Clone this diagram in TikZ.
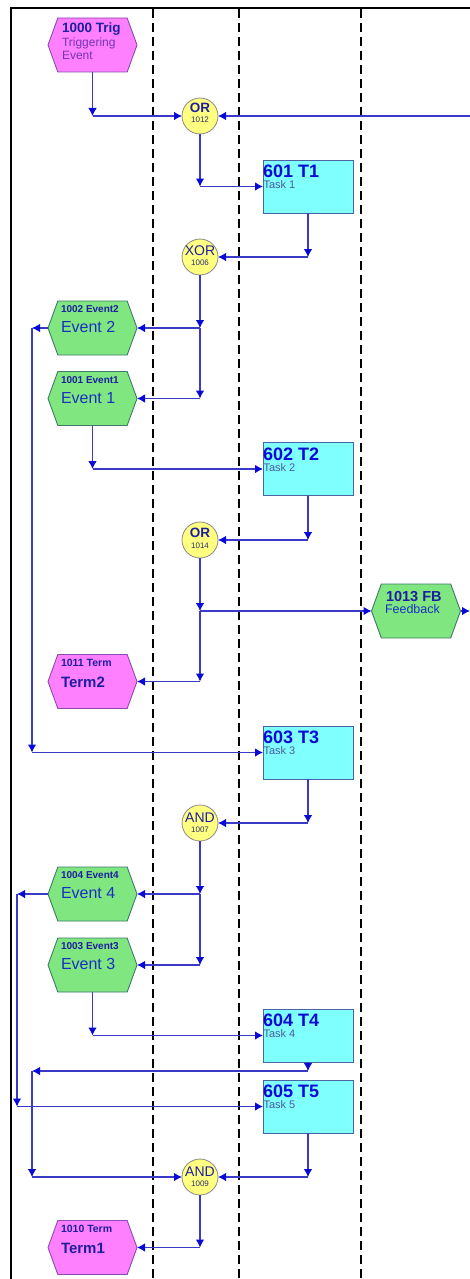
\documentclass[tikz,border=0pt]{standalone}
\usepackage{fontspec}
\setmainfont{Liberation Sans}
\usetikzlibrary{arrows.meta,shapes.symbols}
\definecolor{lc}{HTML}{3A3AC8}
\definecolor{ac}{HTML}{0A0AD8}
\definecolor{magf}{HTML}{FF80FF}
\definecolor{magd}{HTML}{8A4AB0}
\definecolor{grnf}{HTML}{80E680}
\definecolor{grnd}{HTML}{3E7A6A}
\definecolor{cynf}{HTML}{80FFFF}
\definecolor{cynd}{HTML}{4A64A8}
\definecolor{yelf}{HTML}{FFFF80}
\definecolor{yeld}{HTML}{8A8A8A}
\definecolor{tdark}{HTML}{1E1EA0}
\definecolor{tblue}{HTML}{1A30C0}
\definecolor{tpurp}{HTML}{7434B4}
\definecolor{tgray}{HTML}{4A5AA0}
\definecolor{tnum}{HTML}{2E2E6E}
\newcommand\fsz[1]{\fontsize{#1}{#1}\selectfont}
\begin{document}
\begin{tikzpicture}[x=1pt,y=-1pt,
 hexa/.style={shape=signal, signal to=west and east, signal pointer angle=140, minimum width=89pt, minimum height=54pt, inner sep=0pt, outer sep=0pt, line width=0.9pt},
 evm/.style={hexa, fill=magf, draw=magd},
 evg/.style={hexa, fill=grnf, draw=grnd},
 task/.style={rectangle, fill=cynf, draw=cynd, line width=0.9pt, minimum width=90pt, minimum height=53pt, inner sep=0pt, outer sep=0pt},
 conn/.style={circle, fill=yelf, draw=yeld, line width=0.8pt, minimum size=36pt, inner sep=0pt, outer sep=0pt},
 arr/.style={draw=lc, line width=1.1pt, -{Latex[length=8pt,width=8.5pt,color=ac]}},
 lane/.style={line width=2.7pt, dash pattern=on 9pt off 5pt},
 tx/.style={anchor=base west, inner sep=0pt, outer sep=0pt},
 tc/.style={anchor=base, inner sep=0pt, outer sep=0pt},
 evsmall/.style={tx, text=tdark, font=\bfseries\fsz{10}},
 evbig/.style={tx, text=tblue, font=\fsz{16}},
 tmsmall/.style={tx, text=tdark, font=\bfseries\fsz{10.5}},
 tmbig/.style={tx, text=tdark, font=\bfseries\fsz{15}},
 tkbig/.style={tx, text=ac, font=\bfseries\fsz{18}},
 tksmall/.style={tx, text=tgray, font=\fsz{11}},
 cbig/.style={tc, text=tdark, font=\bfseries\fsz{13.5}},
 cbigr/.style={tc, text=tdark, font=\fsz{14}},
 cnum/.style={tc, text=tnum, font=\fsz{8}},
]
\useasboundingbox (0,0) rectangle (470,1279);
\fill[white] (0,0) rectangle (470,1279);
% lanes and frame
\foreach \lx in {153,239,361} \draw[lane] (\lx,9) -- (\lx,1279);
\draw[line width=2pt] (11,1279) -- (11,8) -- (470,8);
\coordinate (lx1) at (32,0);
\coordinate (lx2) at (17,0);
\coordinate (fbin) at (470,116);
\coordinate (fbout) at (470,611);
\coordinate (t4o) at (308,1071);
% events
\node[evm] (trig) at (92.5,45) {};
\node[evg] (ev2) at (92.5,328) {};
\node[evg] (ev1) at (92.5,398.5) {};
\node[evm] (term2) at (92.5,681.5) {};
\node[evg] (ev4) at (92.5,894) {};
\node[evg] (ev3) at (92.5,965) {};
\node[evm] (term1) at (92.5,1247.5) {};
\node[evg] (fb) at (416,611) {};
% tasks
\node[task] (t1) at (308,186.5) {};
\node[task] (t2) at (308,469) {};
\node[task] (t3) at (308,752.5) {};
\node[task] (t4) at (308,1035.5) {};
\node[task] (t5) at (308,1106.5) {};
% connectors (gates)
\node[conn] (or1012) at (200,116) {};
\node[conn] (xor) at (200,257) {};
\node[conn] (or1014) at (200,540) {};
\node[conn] (and1007) at (200,823) {};
\node[conn] (and1009) at (200,1177) {};
% texts
\node[tx, text=tdark, font=\bfseries\fsz{13.5}] (trig-a) at (62,33) {1000 Trig};
\node[tx, text=tpurp, font=\fsz{12}] (trig-b) at (62,47) {Triggering};
\node[tx, text=tpurp, font=\fsz{12}] (trig-c) at (62,60) {Event};
\node[evsmall] (ev2-a) at (61,312) {1002 Event2};
\node[evbig] (ev2-b) at (61,332) {Event 2};
\node[evsmall] (ev1-a) at (61,383) {1001 Event1};
\node[evbig] (ev1-b) at (61,403) {Event 1};
\node[tmsmall] (term2-a) at (61,666) {1011 Term};
\node[tmbig] (term2-b) at (61,687) {Term2};
\node[evsmall] (ev4-a) at (61,878) {1004 Event4};
\node[evbig] (ev4-b) at (61,898) {Event 4};
\node[evsmall] (ev3-a) at (61,949) {1003 Event3};
\node[evbig] (ev3-b) at (61,969) {Event 3};
\node[tmsmall] (term1-a) at (61,1232) {1010 Term};
\node[tmbig] (term1-b) at (61,1253) {Term1};
\node[tx, text=tdark, font=\bfseries\fsz{14.5}] (fb-a) at (386,601) {1013 FB};
\node[tx, text=tblue, font=\fsz{12.5}] (fb-b) at (385,613) {Feedback};
\node[tkbig] (t1-a) at (263,177) {601 T1};
\node[tksmall] (t1-b) at (263.5,188) {Task 1};
\node[tkbig] (t2-a) at (263,460) {602 T2};
\node[tksmall] (t2-b) at (263.5,471) {Task 2};
\node[tkbig] (t3-a) at (263,743) {603 T3};
\node[tksmall] (t3-b) at (263.5,754) {Task 3};
\node[tkbig] (t4-a) at (263,1026) {604 T4};
\node[tksmall] (t4-b) at (263.5,1037) {Task 4};
\node[tkbig] (t5-a) at (263,1097) {605 T5};
\node[tksmall] (t5-b) at (263.5,1108) {Task 5};
\node[cbig] (or1012-a) at (200,112.5) {OR};
\node[cnum] (or1012-b) at (200,122.5) {1012};
\node[cbigr] (xor-a) at (200,255) {XOR};
\node[cnum] (xor-b) at (200,265) {1006};
\node[cbig] (or1014-a) at (200,537) {OR};
\node[cnum] (or1014-b) at (200,548) {1014};
\node[cbigr] (and1007-a) at (200,822) {AND};
\node[cnum] (and1007-b) at (200,832) {1007};
\node[cbigr] (and1009-a) at (200,1176) {AND};
\node[cnum] (and1009-b) at (200,1186) {1009};
% arrows
\draw[arr] (trig.south) -- (trig.south |- or1012.west);
\draw[arr] (trig.south |- or1012.west) -- (or1012.west);
\draw[arr] (fbin) -- (or1012.east);
\draw[arr] (or1012.south) -- (or1012.south |- t1.west);
\draw[arr] (or1012.south |- t1.west) -- (t1.west);
\draw[arr] (t1.south) -- (t1.south |- xor.east);
\draw[arr] (t1.south |- xor.east) -- (xor.east);
\draw[arr] (xor.south) -- (xor.south |- ev2.east);
\draw[arr] (xor.south |- ev2.east) -- (ev2.east);
\draw[arr] (xor.south |- ev2.east) -- (xor.south |- ev1.east);
\draw[arr] (xor.south |- ev1.east) -- (ev1.east);
\draw[arr] (ev2.west) -- (lx1 |- ev2.west);
\draw[arr] (lx1 |- ev2.west) -- (lx1 |- t3.west);
\draw[arr] (lx1 |- t3.west) -- (t3.west);
\draw[arr] (ev1.south) -- (ev1.south |- t2.west);
\draw[arr] (ev1.south |- t2.west) -- (t2.west);
\draw[arr] (t2.south) -- (t2.south |- or1014.east);
\draw[arr] (t2.south |- or1014.east) -- (or1014.east);
\draw[arr] (or1014.south) -- (or1014.south |- fb.west);
\draw[arr] (or1014.south |- fb.west) -- (fb.west);
\draw[arr] (or1014.south |- fb.west) -- (or1014.south |- term2.east);
\draw[arr] (or1014.south |- term2.east) -- (term2.east);
\draw[arr] (fb.east) -- (fbout);
\draw[arr] (t3.south) -- (t3.south |- and1007.east);
\draw[arr] (t3.south |- and1007.east) -- (and1007.east);
\draw[arr] (and1007.south) -- (and1007.south |- ev4.east);
\draw[arr] (and1007.south |- ev4.east) -- (ev4.east);
\draw[arr] (and1007.south |- ev4.east) -- (and1007.south |- ev3.east);
\draw[arr] (and1007.south |- ev3.east) -- (ev3.east);
\draw[arr] (ev4.west) -- (lx2 |- ev4.west);
\draw[arr] (lx2 |- ev4.west) -- (lx2 |- t5.west);
\draw[arr] (lx2 |- t5.west) -- (t5.west);
\draw[arr] (ev3.south) -- (ev3.south |- t4.west);
\draw[arr] (ev3.south |- t4.west) -- (t4.west);
\draw[arr] (t4.south) -- (t4o);
\draw[arr] (t4o) -- (lx1 |- t4o);
\draw[arr] (lx1 |- t4o) -- (lx1 |- and1009.west);
\draw[arr] (lx1 |- and1009.west) -- (and1009.west);
\draw[arr] (t5.south) -- (t5.south |- and1009.east);
\draw[arr] (t5.south |- and1009.east) -- (and1009.east);
\draw[arr] (and1009.south) -- (and1009.south |- term1.east);
\draw[arr] (and1009.south |- term1.east) -- (term1.east);
\end{tikzpicture}
\end{document}
